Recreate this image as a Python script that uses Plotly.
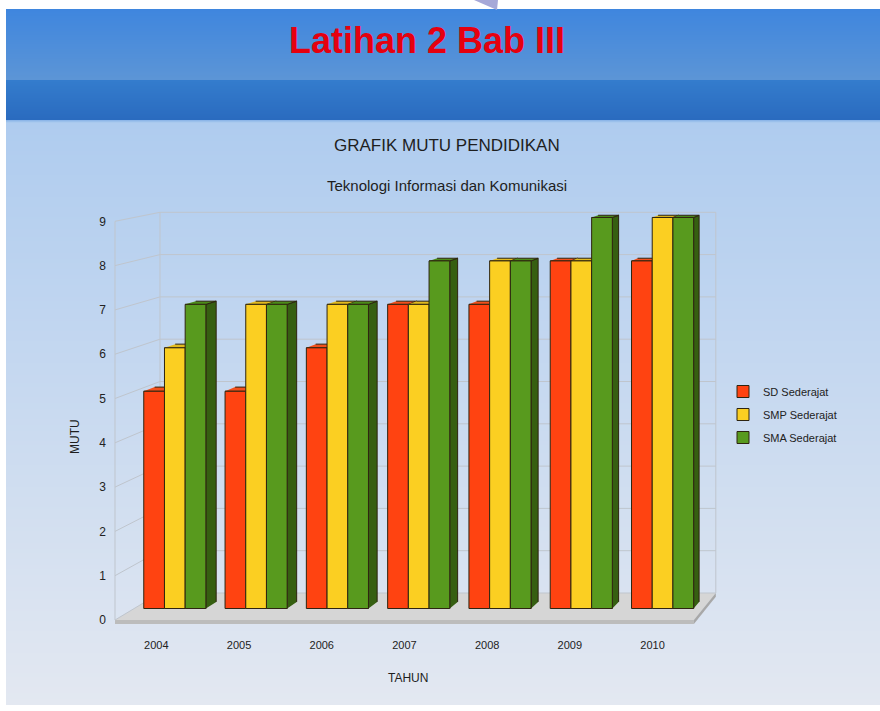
import plotly.graph_objects as go

# ---- data ----
years = ["2004", "2005", "2006", "2007", "2008", "2009", "2010"]
sd_sederajat = [5, 5, 6, 7, 7, 8, 8]
smp_sederajat = [6, 7, 7, 7, 8, 8, 9]
sma_sederajat = [7, 7, 7, 8, 8, 9, 9]
series_names = ["SD Sederajat", "SMP Sederajat", "SMA Sederajat"]
y_tick_values = [0, 1, 2, 3, 4, 5, 6, 7, 8, 9]

# ---- styling ----
W, H = 880, 711
FONT = "Liberation Sans, Arial, sans-serif"
front_colors = ["#ff4311", "#fbcf22", "#589a1e"]
top_colors = ["#f2501c", "#e2ba1e", "#4d8c19"]
side_colors = ["#a52c08", "#a88b14", "#365f11"]
edge_color = "#2e2410"
grid_color = "#bfc5cd"

# ---- 3D frame geometry (t = 0 front edge of floor, t = 1 back wall) ----
def plane(t):
    left = 115 + 45 * t
    catw = 82.7 - 3.3 * t
    y0 = 620 - 27 * t
    unit = 44.3 - 2.0 * t
    return left, catw, y0, unit

T_BAR = 0.426      # depth of the bars' front faces
T_DEPTH = 0.245    # bar thickness in depth
LB, CB, YB, UB = plane(T_BAR)
N = len(years)


def to_data(px, py):
    return (px - LB) / CB - 0.5, (YB - py) / UB


def world(c, v, t):
    left, catw, y0, unit = plane(t)
    return to_data(left + catw * c, y0 - unit * v)


def poly(points):
    xs, ys = [], []
    for c, v, t in points:
        x, y = world(c, v, t)
        xs.append(x)
        ys.append(y)
    return xs, ys


x_range = [to_data(0, 0)[0], to_data(W, 0)[0]]
y_range = [to_data(0, H)[1], to_data(0, 0)[1]]

fig = go.Figure()

# ---- slide background ----
def px_to_paper(px, py):
    return px / W, 1 - py / H


def hex_rgb(h):
    h = h.lstrip("#")
    return [int(h[i:i + 2], 16) for i in (0, 2, 4)]


def gradient(x0, x1, y0, y1, c0, c1, step=1):
    """Vertical gradient made of whole-pixel rows (no anti-aliased seams)."""
    a, b = hex_rgb(c0), hex_rgb(c1)
    rows = list(range(y0, y1, step))
    for i, r in enumerate(rows):
        f = i / max(len(rows) - 1, 1)
        col = "rgb(%d,%d,%d)" % tuple(round(a[k] + (b[k] - a[k]) * f) for k in range(3))
        r1 = min(r + step + 1, y1)
        px0, py0 = px_to_paper(x0, r)
        px1, py1 = px_to_paper(x1, r1)
        fig.add_shape(type="rect", xref="paper", yref="paper", x0=px0, x1=px1,
                      y0=py1, y1=py0, fillcolor=col, line_width=0, layer="below")


gradient(6, W, 9, 80, "#3f86de", "#5c95d6", 1)
gradient(6, W, 80, 120, "#347ccd", "#2a6bbf", 1)
gradient(6, W, 120, 123, "#8db6e8", "#a9c9ee", 1)
gradient(6, W, 123, 705, "#afccef", "#e3e8f1", 2)

# small decoration at the top edge
tx = [474, 498, 497]
ty = [0, 0, 10]
path = "M " + " L ".join("%f,%f" % px_to_paper(x, y) for x, y in zip(tx, ty)) + " Z"
fig.add_shape(type="path", xref="paper", yref="paper", path=path,
              fillcolor="#a6a8d8", line_width=0, layer="below")

# ---- floor ----
floor_parts = [
    ([(0, 0, 0), (N, 0, 0), (N, 0, 1), (0, 0, 1)], "#d6d6d6"),
    ([(0, 0, 0), (N, 0, 0), (N, -0.09, 0), (0, -0.09, 0)], "#bcbcbc"),
    ([(N, 0, 0), (N, 0, 1), (N, -0.09, 1), (N, -0.09, 0)], "#a8a8a8"),
]
for pts, col in floor_parts:
    xs, ys = poly(pts)
    fig.add_trace(go.Scatter(x=xs, y=ys, fill="toself", fillcolor=col, mode="lines",
                             line=dict(width=0, color=col), hoverinfo="skip",
                             showlegend=False))

# ---- walls and gridlines ----
gx, gy = [], []
top = max(y_tick_values)
for v in y_tick_values:
    for seg in ([(0, v, 1), (N, v, 1)], [(0, v, 0), (0, v, 1)]):
        xs, ys = poly(seg)
        gx += xs + [None]
        gy += ys + [None]
for seg in ([(0, 0, 0), (0, top, 0)], [(0, 0, 1), (0, top, 1)], [(N, 0, 1), (N, top, 1)]):
    xs, ys = poly(seg)
    gx += xs + [None]
    gy += ys + [None]
fig.add_trace(go.Scatter(x=gx, y=gy, mode="lines", line=dict(color=grid_color, width=1),
                         hoverinfo="skip", showlegend=False))

# ---- bars ----
series = [sd_sederajat, smp_sederajat, sma_sederajat]
bargap = 0.236
bw = (1 - bargap) / len(series)
t_back = T_BAR + T_DEPTH

side_traces, top_traces = [], []
for k, vals in enumerate(series):
    sx, sy, qx, qy = [], [], [], []
    for i, v in enumerate(vals):
        xl = i - (1 - bargap) / 2 + k * bw + 0.5
        xr = xl + bw
        xs, ys = poly([(xr, 0, T_BAR), (xr, v, T_BAR), (xr, v, t_back), (xr, 0, t_back)])
        sx += xs + [None]
        sy += ys + [None]
        xs, ys = poly([(xl, v, T_BAR), (xr, v, T_BAR), (xr, v, t_back), (xl, v, t_back)])
        qx += xs + [None]
        qy += ys + [None]
    side_traces.append(go.Scatter(x=sx, y=sy, fill="toself", fillcolor=side_colors[k],
                                  mode="lines", line=dict(color=edge_color, width=1),
                                  hoverinfo="skip", showlegend=False))
    top_traces.append(go.Scatter(x=qx, y=qy, fill="toself", fillcolor=top_colors[k],
                                 mode="lines", line=dict(color=edge_color, width=1),
                                 hoverinfo="skip", showlegend=False))
for tr in side_traces + top_traces:
    fig.add_trace(tr)

for k, vals in enumerate(series):
    fig.add_trace(go.Bar(x=years, y=vals, name=series_names[k], xaxis="x2", yaxis="y2",
                         marker=dict(color=front_colors[k],
                                     line=dict(color=edge_color, width=1)),
                         legendgroup=series_names[k]))

# carrier for the front-edge tick labels
fig.add_trace(go.Scatter(x=years, y=sd_sederajat, xaxis="x3", yaxis="y3", mode="markers",
                         marker=dict(opacity=0), hoverinfo="skip", showlegend=False))

L0, C0, Y0, U0 = plane(0)
x3_range = [(0 - L0) / C0 - 0.5, (W - L0) / C0 - 0.5]
y3_range = [(Y0 - H) / U0, Y0 / U0]

fig.update_layout(
    width=W, height=H,
    margin=dict(l=0, r=0, t=0, b=0),
    paper_bgcolor="white",
    plot_bgcolor="rgba(0,0,0,0)",
    barmode="group", bargap=bargap, bargroupgap=0,
    font=dict(family=FONT, color="#222222"),
    xaxis=dict(range=x_range, visible=False, domain=[0, 1], fixedrange=True),
    yaxis=dict(range=y_range, visible=False, domain=[0, 1], fixedrange=True),
    xaxis2=dict(type="category", categoryarray=years, range=x_range, overlaying="x",
                visible=False),
    yaxis2=dict(range=y_range, overlaying="y", visible=False),
    xaxis3=dict(type="category", categoryorder="array", categoryarray=years,
                range=x3_range, overlaying="x", anchor="free", position=1 - 637 / H,
                showgrid=False, showline=False, zeroline=False, ticks="",
                tickfont=dict(size=11, color="#222222")),
    yaxis3=dict(range=y3_range, overlaying="y", anchor="free", position=106 / W,
                side="left", tickvals=y_tick_values, showgrid=False, showline=False,
                zeroline=False, ticks="", tickfont=dict(size=12, color="#222222")),
    legend=dict(x=723 / W, y=1 - 377 / H, xanchor="left", yanchor="top",
                bgcolor="rgba(0,0,0,0)", font=dict(size=11, color="#222222"),
                tracegroupgap=4),
    showlegend=True,
)

annotations = [
    dict(text="Latihan 2 Bab III", x=427 / W, y=1 - 40 / H,
         font=dict(family="Liberation Sans Narrow, Liberation Sans, Arial", size=36,
                   color="#e6000f", weight="bold")),
    dict(text="GRAFIK MUTU PENDIDIKAN", x=447 / W, y=1 - 146 / H,
         font=dict(size=17, color="#1e1e1e")),
    dict(text="Teknologi Informasi dan Komunikasi", x=447 / W, y=1 - 185 / H,
         font=dict(size=15, color="#1e1e1e")),
    dict(text="MUTU", x=75 / W, y=1 - 437 / H, textangle=-90,
         font=dict(size=12, color="#1e1e1e")),
    dict(text="TAHUN", x=408 / W, y=1 - 678 / H, font=dict(size=12, color="#1e1e1e")),
]
for a in annotations:
    fig.add_annotation(xref="paper", yref="paper", showarrow=False,
                       xanchor="center", yanchor="middle", **a)

fig.write_html("out.html")
